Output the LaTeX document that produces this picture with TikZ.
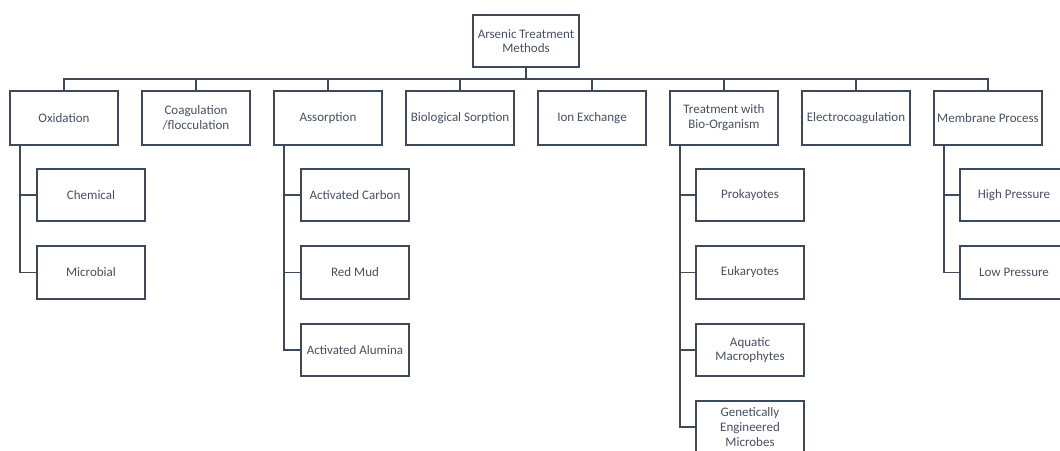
\documentclass[tikz,border=0pt]{standalone}
\usepackage{fontspec}
\setmainfont{Carlito}
\definecolor{slate}{HTML}{3E4A5C}
\definecolor{slatetext}{HTML}{46505F}
\begin{document}
\begin{tikzpicture}[x=1pt,y=-1pt,
    box/.style={draw=slate,line width=2.4pt,minimum width=108pt,minimum height=52.5pt,
      inner sep=1pt,align=center,text=slatetext,font=\fontsize{13}{14.8}\selectfont},
    link/.style={draw=slate,line width=1.8pt}]
  \useasboundingbox (0,0) rectangle (1060,450);
  \clip (0,0) rectangle (1060,450);
  % top
  \node[box,minimum width=106pt] (root) at (526,41) {Arsenic Treatment\\Methods};
  \coordinate (bus) at (526,79);
  % methods
  \node[box,minimum height=53.5pt] (oxi) at (64,118) {Oxidation};
  \node[box,minimum height=53.5pt] (coag) at (196,118) {Coagulation\\/flocculation};
  \node[box,minimum height=53.5pt] (ads) at (328,118) {Assorption};
  \node[box,minimum height=53.5pt] (biosorp) at (460,118) {Biological Sorption};
  \node[box,minimum height=53.5pt] (ion) at (592,118) {Ion Exchange};
  \node[box,minimum height=53.5pt] (bioorg) at (724,118) {Treatment with\\Bio-Organism};
  \node[box,minimum height=53.5pt] (electro) at (856,118) {Electrocoagulation};
  \node[box,minimum height=53.5pt] (mem) at (988,118) {Membrane Process};
  % sub-methods
  \node[box] (chem) at (91,195) {Chemical};
  \node[box] (micro) at (91,272.5) {Microbial};
  \node[box] (carbon) at (355,195) {Activated Carbon};
  \node[box] (mud) at (355,272.5) {Red Mud};
  \node[box] (alumina) at (355,350) {Activated Alumina};
  \node[box] (prok) at (750,195) {Prokayotes};
  \node[box] (euk) at (750,272.5) {Eukaryotes};
  \node[box] (aqua) at (750,350) {Aquatic\\Macrophytes};
  \node[box] (gem) at (750,427) {Genetically\\Engineered\\Microbes};
  \node[box] (high) at (1014,195) {High Pressure};
  \node[box] (low) at (1014,272.5) {Low Pressure};
  % links
  \draw[link,line width=2.8pt] (root.south) -- (bus);
  \draw[link] (oxi.north) -- (oxi.north |- bus) -- (mem.north |- bus) -- (mem.north);
  \draw[link] (coag.north) -- (coag.north |- bus);
  \draw[link] (ads.north) -- (ads.north |- bus);
  \draw[link] (biosorp.north) -- (biosorp.north |- bus);
  \draw[link] (ion.north) -- (ion.north |- bus);
  \draw[link] (bioorg.north) -- (bioorg.north |- bus);
  \draw[link] (electro.north) -- (electro.north |- bus);
  \draw[link] ([xshift=11pt]oxi.south west) |- (chem.west);
  \draw[link] ([xshift=11pt]oxi.south west) |- (micro.west);
  \draw[link] ([xshift=11pt]ads.south west) |- (carbon.west);
  \draw[link] ([xshift=11pt]ads.south west) |- (mud.west);
  \draw[link] ([xshift=11pt]ads.south west) |- (alumina.west);
  \draw[link] ([xshift=11pt]bioorg.south west) |- (prok.west);
  \draw[link] ([xshift=11pt]bioorg.south west) |- (euk.west);
  \draw[link] ([xshift=11pt]bioorg.south west) |- (aqua.west);
  \draw[link] ([xshift=11pt]bioorg.south west) |- (gem.west);
  \draw[link] ([xshift=11pt]mem.south west) |- (high.west);
  \draw[link] ([xshift=11pt]mem.south west) |- (low.west);
\end{tikzpicture}
\end{document}
